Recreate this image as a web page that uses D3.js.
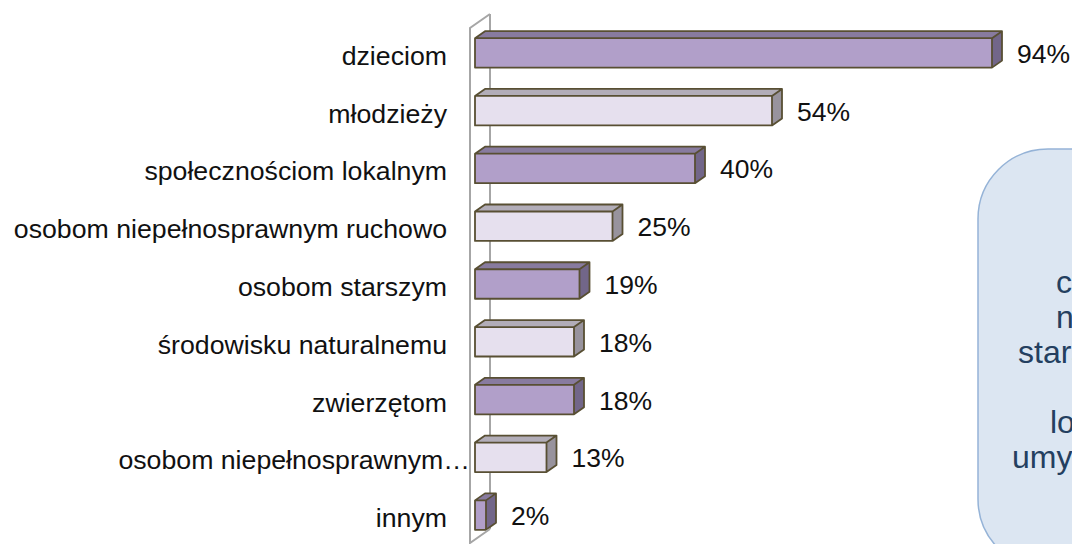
<!DOCTYPE html>
<html lang="pl">
<head>
<meta charset="utf-8">
<title>Komu pomagają</title>
<script src="https://d3js.org/d3.v7.min.js"></script>
<style>
    * { margin: 0; padding: 0; box-sizing: border-box; }
    body { background: #fff; width: 1072px; height: 544px; overflow: hidden; }
    svg { display: block; font-family: 'Liberation Sans', Arial, sans-serif; }
</style>
</head>
<body>
<div id="chart"></div>
<script>
    // data
    var categories = [
        "dzieciom",
        "młodzieży",
        "społecznościom lokalnym",
        "osobom niepełnosprawnym ruchowo",
        "osobom starszym",
        "środowisku naturalnemu",
        "zwierzętom",
        "osobom niepełnosprawnym…",
        "innym"
    ];
    var values = [0.94, 0.54, 0.40, 0.25, 0.19, 0.18, 0.18, 0.13, 0.02];
    var valueLabels = ["94%", "54%", "40%", "25%", "19%", "18%", "18%", "13%", "2%"];

    // text of the call-out box (cut off by the right edge)
    var noteLines = ["co", "niepełnosprawnym", "starszym,", "", "lokalnym", "umysłowo"];

    var width = 1072, height = 544;

    var svg = d3.select("#chart").append("svg")
        .attr("width", width)
        .attr("height", height);

    var x = d3.scaleLinear().domain([0, 1]).range([475, 1025]);
    var y = d3.scaleBand().domain(categories).range([24, 544])
        .paddingInner(0.49).paddingOuter(0.245);

    var dx = 10, dy = -7;          // bar depth
    var wdx = 20, wdy = -14;       // wall depth
    var wallTop = 28, wallBottom = 543, wallX = 470;

    var colors = [
        { front: "#b19fc9", top: "#887b9f", side: "#726689" },
        { front: "#e6e0ee", top: "#b2adb8", side: "#98939d" }
    ];

    // back line of the wall (behind bars)
    svg.append("line")
        .attr("x1", wallX + wdx).attr("y1", wallTop + wdy)
        .attr("x2", wallX + wdx).attr("y2", wallBottom + wdy)
        .style("stroke", "#a6a6a6").style("stroke-width", 2);

    var bars = svg.append("g").selectAll("g")
        .data(values)
        .enter()
        .append("g");

    function pts(a) { return a.map(function (p) { return p.join(","); }).join(" "); }

    bars.each(function (v, i) {
        var g = d3.select(this);
        var c = colors[i % 2];
        var x0 = x(0), x1 = x(v);
        var y0 = y(categories[i]), y1 = y0 + y.bandwidth();

        g.append("polygon")
            .attr("points", pts([[x0, y0], [x0 + dx, y0 + dy], [x1 + dx, y0 + dy], [x1, y0]]))
            .style("fill", c.top);
        g.append("polygon")
            .attr("points", pts([[x1, y0], [x1 + dx, y0 + dy], [x1 + dx, y1 + dy], [x1, y1]]))
            .style("fill", c.side);
        g.append("rect")
            .attr("x", x0).attr("y", y0)
            .attr("width", x1 - x0).attr("height", y1 - y0)
            .style("fill", c.front);
        // outline
        g.append("path")
            .attr("d", "M" + x0 + "," + y1 + "L" + x0 + "," + y0 + "L" + (x0 + dx) + "," + (y0 + dy) +
                "L" + (x1 + dx) + "," + (y0 + dy) + "L" + (x1 + dx) + "," + (y1 + dy) +
                "L" + x1 + "," + y1 + "Z M" + x0 + "," + y0 + "L" + x1 + "," + y0 +
                "L" + x1 + "," + y1 + " M" + x1 + "," + y0 + "L" + (x1 + dx) + "," + (y0 + dy))
            .style("fill", "none")
            .style("stroke", "#584f33")
            .style("stroke-width", 1.8)
            .style("stroke-linejoin", "round");
    });

    // front line and edges of the wall
    svg.append("path")
        .attr("d", "M" + (wallX + wdx) + "," + (wallTop + wdy) + "L" + wallX + "," + wallTop +
            "L" + wallX + "," + wallBottom + "L" + (wallX + wdx) + "," + (wallBottom + wdy))
        .style("fill", "none")
        .style("stroke", "#a6a6a6").style("stroke-width", 2);

    // category labels
    svg.append("g").selectAll("text")
        .data(categories)
        .enter()
        .append("text")
        .attr("x", function (d) { return d.slice(-1) === "…" ? 470 : 447; })
        .attr("y", function (d) { return y(d) + y.bandwidth() / 2 + 12; })
        .attr("text-anchor", "end")
        .style("font-size", "26.7px")
        .style("fill", "#111")
        .text(function (d) { return d; });

    // value labels
    svg.append("g").selectAll("text")
        .data(values)
        .enter()
        .append("text")
        .attr("x", function (d) { return x(d) + dx + 15; })
        .attr("y", function (d, i) { return y(categories[i]) + y.bandwidth() / 2 + 10; })
        .style("font-size", "26.5px")
        .style("fill", "#111")
        .text(function (d, i) { return valueLabels[i]; });

    // call-out box
    svg.append("rect")
        .attr("x", 978).attr("y", 149)
        .attr("width", 400).attr("height", 420)
        .attr("rx", 70).attr("ry", 70)
        .style("fill", "#dce6f2")
        .style("stroke", "#95b3d7")
        .style("stroke-width", 1.5);

    var noteX = [1056, 1056, 1018, 1040, 1050, 1012];
    svg.append("g").selectAll("text")
        .data(noteLines)
        .enter()
        .append("text")
        .attr("x", function (d, i) { return noteX[i]; })
        .attr("y", function (d, i) { return 293 + i * 35; })
        .style("font-size", "32px")
        .style("fill", "#243f60")
        .text(function (d) { return d; });
</script>
</body>
</html>
